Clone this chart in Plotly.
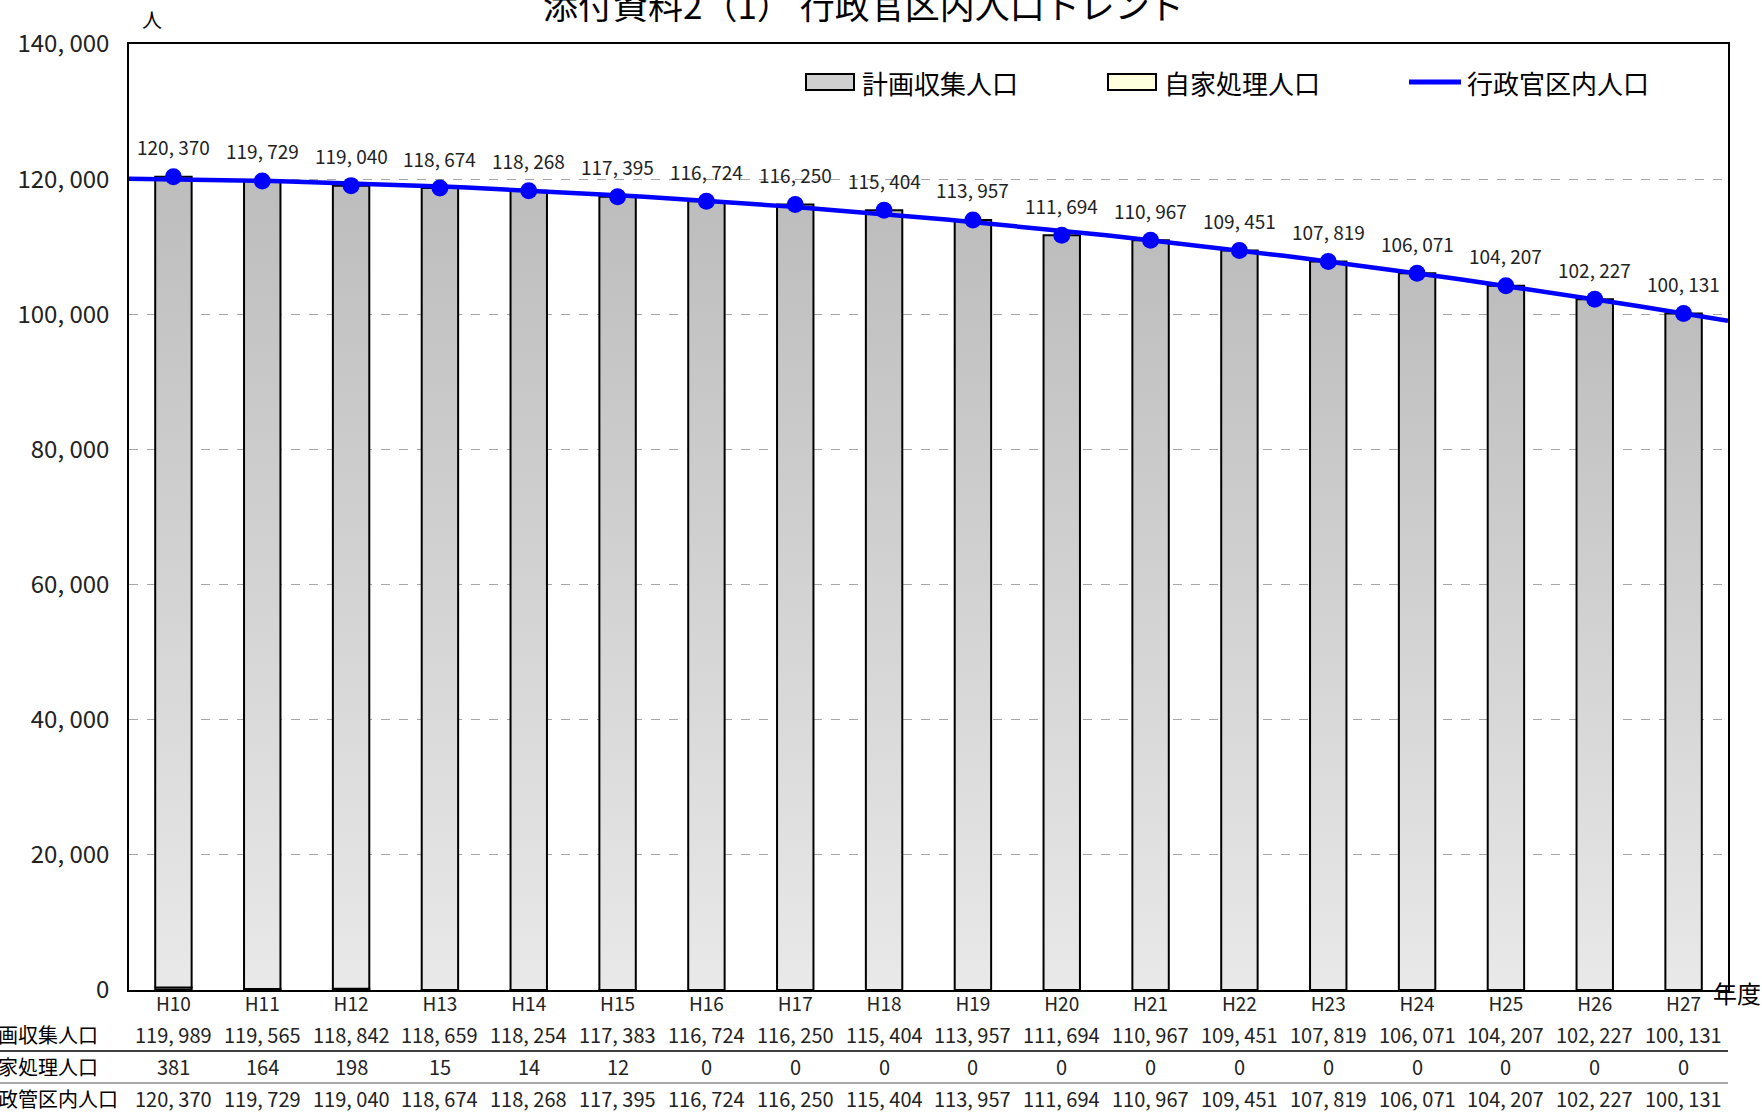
import numpy as np
import plotly.graph_objects as go

# ---- data -------------------------------------------------------------
years = ["H10", "H11", "H12", "H13", "H14", "H15", "H16", "H17", "H18",
         "H19", "H20", "H21", "H22", "H23", "H24", "H25", "H26", "H27"]
planned_collection = [119989, 119565, 118842, 118659, 118254, 117383, 116724, 116250, 115404,
                      113957, 111694, 110967, 109451, 107819, 106071, 104207, 102227, 100131]
self_disposal = [381, 164, 198, 15, 14, 12, 0, 0, 0,
                 0, 0, 0, 0, 0, 0, 0, 0, 0]
district_population = [120370, 119729, 119040, 118674, 118268, 117395, 116724, 116250, 115404,
                       113957, 111694, 110967, 109451, 107819, 106071, 104207, 102227, 100131]
y_ticks = [0, 20000, 40000, 60000, 80000, 100000, 120000, 140000]

row_names = ["計画収集人口", "自家処理人口", "行政管区内人口"]
series_names = ["計画収集人口", "自家処理人口", "行政官区内人口"]

# ---- page geometry (pixels) ------------------------------------------
W, H = 1762, 1112
ML, MR, MT, MB = 129, 34, 44, 122
PW, PH = W - ML - MR, H - MT - MB
FONT = "Noto Sans CJK JP, Noto Sans, sans-serif"
BLUE = "#0000ff"


def px(xp):
    return (xp - ML) / PW


def py(yp):
    return (H - MB - yp) / PH


def fmt(v):
    return f"{v:,}".replace(",", ", ")


idx = list(range(len(years)))
half = 0.205

fig = go.Figure()

# self-disposal segment at the foot of each column
fig.add_trace(go.Bar(
    x=idx, y=self_disposal, width=2 * half, name=series_names[1],
    marker=dict(color="#ffffdd", line=dict(color="black", width=2)),
))

# planned-collection columns, stacked on top, filled with a vertical gradient
for i in idx:
    b = self_disposal[i]
    t = b + planned_collection[i]
    fig.add_trace(go.Scatter(
        x=[i - half, i - half, i + half, i + half, i - half],
        y=[b, t, t, b, b],
        mode="lines", fill="toself",
        line=dict(color="black", width=2),
        fillgradient=dict(type="vertical",
                          colorscale=[[0, "#e9e9e9"], [1, "#bdbdbd"]]),
        name=series_names[0], showlegend=False, hoverinfo="skip",
    ))

# second-order polynomial trendline of the district population
coef = np.polyfit(idx, district_population, 2)
tx = np.linspace(-0.5, len(years) - 0.5, 91)
fig.add_trace(go.Scatter(
    x=tx, y=np.polyval(coef, tx), mode="lines",
    line=dict(color=BLUE, width=4.5), name=series_names[2], hoverinfo="skip",
))
fig.add_trace(go.Scatter(
    x=idx, y=district_population, mode="markers",
    marker=dict(color=BLUE, size=17), name=series_names[2],
))

annotations = []

# value labels above the markers
for i, v in zip(idx, district_population):
    annotations.append(dict(
        x=i, y=v, xref="x", yref="y", text=fmt(v), showarrow=False,
        yshift=30, font=dict(family=FONT, size=19, color="#222222"),
    ))

# data table under the axis
row_y = [1034, 1066, 1098]
rows = [planned_collection, self_disposal, district_population]
for name, yy, vals in zip(row_names, row_y, rows):
    annotations.append(dict(
        x=px(-24), y=py(yy), xref="paper", yref="paper", text=name,
        showarrow=False, xanchor="left", yanchor="middle",
        font=dict(family=FONT, size=20, color="black"),
    ))
    for i, v in zip(idx, vals):
        annotations.append(dict(
            x=i, y=py(yy), xref="x", yref="paper", text=fmt(v),
            showarrow=False, yanchor="middle",
            font=dict(family=FONT, size=20, color="#222222"),
        ))

# title, unit and axis captions
annotations += [
    dict(x=px(864), y=py(4), xref="paper", yref="paper",
         text="添付資料2（1） 行政官区内人口トレンド", showarrow=False,
         yanchor="middle", font=dict(family=FONT, size=35, color="black")),
    dict(x=px(140), y=py(20), xref="paper", yref="paper", text="人",
         showarrow=False, yanchor="middle",
         font=dict(family=FONT, size=20, color="black")),
    dict(x=px(1711), y=py(993), xref="paper", yref="paper", text="年度",
         showarrow=False, xanchor="left", yanchor="middle",
         font=dict(family=FONT, size=24, color="black")),
]

# legend, laid out inside the plot area
legend_y = 82
legend_items = [(806, "#d0d0d0", series_names[0]),
                (1108, "#ffffdd", series_names[1])]
shapes = []
for x0, col, name in legend_items:
    shapes.append(dict(type="rect", xref="paper", yref="paper",
                       x0=px(x0), x1=px(x0 + 48), y0=py(legend_y + 8), y1=py(legend_y - 8),
                       fillcolor=col, line=dict(color="black", width=2)))
    annotations.append(dict(x=px(x0 + 54), y=py(legend_y), xref="paper", yref="paper",
                            text=name, showarrow=False, xanchor="left", yanchor="middle",
                            font=dict(family=FONT, size=26, color="black")))
shapes.append(dict(type="line", xref="paper", yref="paper",
                   x0=px(1409), x1=px(1461), y0=py(legend_y), y1=py(legend_y),
                   line=dict(color=BLUE, width=5)))
annotations.append(dict(x=px(1465), y=py(legend_y), xref="paper", yref="paper",
                        text=series_names[2], showarrow=False, xanchor="left", yanchor="middle",
                        font=dict(family=FONT, size=26, color="black")))

# table rules
shapes.append(dict(type="line", xref="paper", yref="paper", x0=px(0), x1=1,
                   y0=py(1051), y1=py(1051), line=dict(color="black", width=1.5)))
shapes.append(dict(type="line", xref="paper", yref="paper", x0=px(0), x1=1,
                   y0=py(1083), y1=py(1083), line=dict(color="#8a8a8a", width=1.5)))

fig.update_layout(
    width=W, height=H, margin=dict(l=ML, r=MR, t=MT, b=MB),
    paper_bgcolor="white", plot_bgcolor="white",
    barmode="overlay", showlegend=False,
    font=dict(family=FONT, color="#222222"),
    annotations=annotations, shapes=shapes,
    xaxis=dict(range=[-0.5, len(years) - 0.5], tickvals=idx, ticktext=years,
               showgrid=False, zeroline=False, showline=True, linecolor="black",
               linewidth=1.5, mirror=True, ticks="", ticklabelstandoff=-4,
               tickfont=dict(size=19, color="#222222")),
    yaxis=dict(range=[0, 140000], tickvals=y_ticks, ticktext=[fmt(v) for v in y_ticks],
               showgrid=True, gridcolor="#a6a6a6", griddash="dash", gridwidth=1,
               zeroline=False, showline=True, linecolor="black", linewidth=1.5,
               mirror=True, ticks="", ticklabelstandoff=13,
               tickfont=dict(size=24, color="#222222")),
)

fig.write_html("out.html")
